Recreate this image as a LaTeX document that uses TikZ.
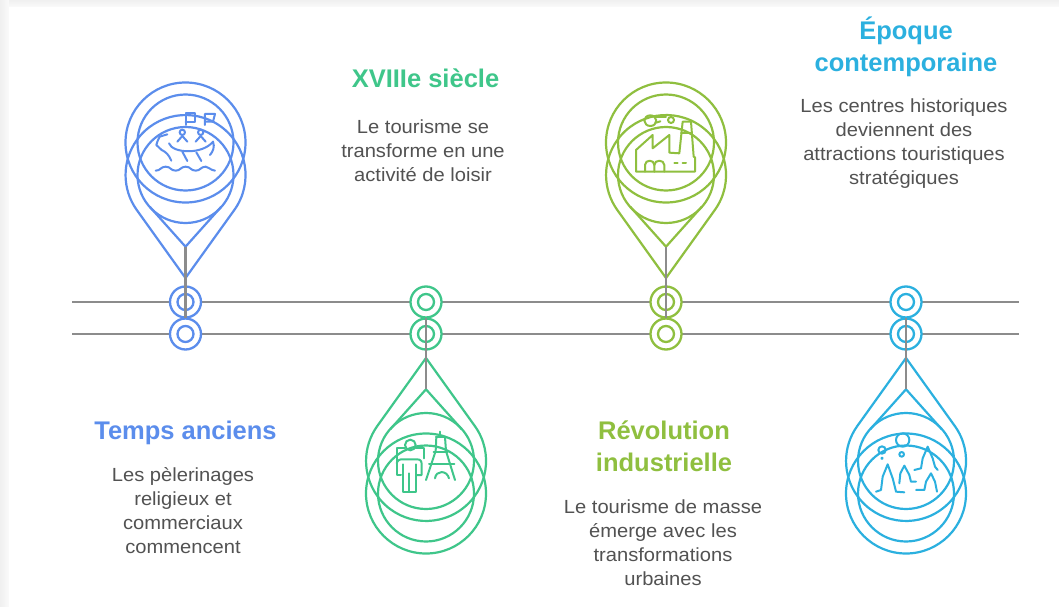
\documentclass[tikz,border=0pt]{standalone}
\usepackage{fontspec}
\setmainfont{Liberation Sans}
\newfontfamily\bodyfont[FakeStretch=1.06]{Liberation Sans}
\definecolor{cblue}{HTML}{5B8DEC}
\definecolor{cgreen}{HTML}{3FC68A}
\definecolor{clime}{HTML}{8FBF3F}
\definecolor{ccyan}{HTML}{2BB0DF}
\definecolor{cbody}{HTML}{525252}
\definecolor{caxis}{HTML}{8C8C8C}
\definecolor{cedge}{HTML}{F0F0F0}
\definecolor{cedgeb}{HTML}{FAFAFA}
\tikzset{
  axisline/.style={draw=caxis,line width=2.4pt},
  stem/.style={draw=caxis,line width=2.4pt},
  ring/.style={circle,draw=#1,line width=2.3pt,fill=white,minimum size=31pt,inner sep=0pt},
  ringin/.style={circle,draw=#1,line width=2.3pt,minimum size=16pt,inner sep=0pt},
  pinline/.style={draw=#1,line width=2.2pt},
  iconline/.style={draw=#1,line width=2pt,line cap=round,line join=round},
  title/.style={text=#1,font=\fontsize{25.5}{32}\selectfont\bfseries,align=center,inner sep=0pt},
  body/.style={text=cbody,font=\fontsize{19}{24}\bodyfont,align=center,inner sep=0pt},
}
% #1 x position, #2 yscale sign (-1 up, 1 down), #3 colour, #4 name
\newcommand{\mypin}[4]{%
  \begin{scope}[shift={(#1,318)},yscale=#2]
    \draw[pinline=#3] (0,40) -- (48.8,108) arc[start angle=-35.65,end angle=215.65,radius=60] -- cycle;
    \draw[pinline=#3] (-35.7,111.2) -- (0,71.3) -- (35.7,111.2);
    \draw[pinline=#3] (0,143) circle[radius=48];
    \draw[pinline=#3] (0,175.5) circle[radius=60];
    \draw[pinline=#3] (0,175.5) circle[radius=48];
    \coordinate (#4tip) at (0,71.3);
    \coordinate (#4root) at (0,0);
  \end{scope}
  \draw[stem] (#4tip) -- (#4root);
}
\newcommand{\myrings}[3]{%
  \node[ring=#2] (#3a) at (#1,302) {};
  \node[ringin=#2] (#3ai) at (#1,302) {};
  \node[ring=#2] (#3b) at (#1,334) {};
  \node[ringin=#2] (#3bi) at (#1,334) {};
}
\begin{document}
\begin{tikzpicture}[x=1pt,y=-1pt]
\useasboundingbox (0,0) rectangle (1059,607);
\shade[top color=cedge,bottom color=cedgeb] (0,0) rectangle (1059,7);
\shade[left color=cedge,right color=cedgeb] (0,0) rectangle (9,607);
\fill[white] (9,7) rectangle (1059,607);
% axes
\coordinate (l1) at (72,302);
\coordinate (r1) at (1019,302);
\coordinate (l2) at (72,334);
\coordinate (r2) at (1019,334);
\draw[axisline] (l1) -- (r1);
\draw[axisline] (l2) -- (r2);
% rings
\myrings{185.5}{cblue}{A}
\myrings{426}{cgreen}{B}
\myrings{666}{clime}{C}
\myrings{906}{ccyan}{D}
% pins
\mypin{185.5}{-1}{cblue}{pa}
\mypin{426}{1}{cgreen}{pb}
\mypin{666}{-1}{clime}{pc}
\mypin{906}{1}{ccyan}{pd}
% boat icon
\begin{scope}[shift={(139,100)},x=.3333pt,y=-.3333pt]
  \draw[iconline=cblue] (140,75) -- (140,40) -- (168,40) -- (168,65) -- (140,65);
  \draw[iconline=cblue] (198,75) -- (198,42) -- (228,42) -- (222,65) -- (198,65);
  \draw[iconline=cblue] (130,97) circle[radius=8];
  \draw[iconline=cblue] (185,97) circle[radius=8];
  \draw[iconline=cblue] (115,125) -- (130,108) -- (145,125);
  \draw[iconline=cblue] (170,125) -- (185,108) -- (200,125);
  \draw[iconline=cblue] (90,130) .. controls (100,160) and (190,165) .. (222,125) .. controls (228,140) and (222,155) .. (213,165);
  \draw[iconline=cblue] (130,155) -- (145,183);
  \draw[iconline=cblue] (172,157) -- (187,183);
  \draw[iconline=cblue] (85,103) -- (62,110) -- (55,125) -- (52,135) -- (68,150) .. controls (80,155) and (90,165) .. (97,182);
  \draw[iconline=cblue] (50,212) .. controls (65,212) and (65,200) .. (80,200) .. controls (95,200) and (95,212) .. (110,212) .. controls (125,212) and (125,200) .. (140,200) .. controls (155,200) and (155,212) .. (170,212) .. controls (185,212) and (185,200) .. (200,200) .. controls (210,200) and (212,210) .. (228,212);
\end{scope}
% person and tower icon
\begin{scope}[shift={(381,425)},x=.3333pt,y=-.3333pt]
  \draw[iconline=cgreen] (88,60) circle[radius=16];
  \draw[iconline=cgreen] (72,68) -- (47,68) -- (47,150) -- (60,150);
  \draw[iconline=cgreen] (47,115) .. controls (50,105) and (55,103) .. (65,103) -- (108,103) .. controls (118,103) and (122,108) .. (122,118) -- (122,150) -- (108,150);
  \draw[iconline=cgreen] (65,118) -- (65,200) -- (105,200) -- (105,118);
  \draw[iconline=cgreen] (85,145) -- (85,200);
  \draw[iconline=cgreen] (104,68) -- (130,68) -- (130,100);
  \draw[iconline=cgreen] (178,20) -- (178,36);
  \draw[iconline=cgreen] (165,36) -- (192,36);
  \draw[iconline=cgreen] (166,36) -- (164,78) -- (135,165);
  \draw[iconline=cgreen] (192,36) -- (195,78) -- (222,165);
  \draw[iconline=cgreen] (158,82) -- (200,82);
  \draw[iconline=cgreen] (144,116) -- (220,116);
  \draw[iconline=cgreen] (162,160) .. controls (165,135) and (198,135) .. (204,160);
\end{scope}
% factory icon
\begin{scope}[shift={(621,100)},x=.3333pt,y=-.3333pt]
  \draw[iconline=clime] (45,215) -- (45,150) -- (95,105) -- (95,145) -- (145,105) -- (145,158) -- (175,160) -- (185,65) -- (210,65) -- (218,170) -- (222,172) -- (222,215) -- cycle;
  \draw[iconline=clime] (180,100) -- (212,100);
  \draw[iconline=clime] (72,215) -- (72,195) .. controls (72,178) and (100,178) .. (100,195) -- (100,215);
  \draw[iconline=clime] (100,195) .. controls (100,178) and (130,178) .. (130,195) -- (130,215);
  \draw[iconline=clime] (160,190) -- (170,190);
  \draw[iconline=clime] (185,190) -- (195,190);
  \draw[iconline=clime] (88,62) ellipse[x radius=18,y radius=16];
  \draw[iconline=clime] (105,52) -- (135,52);
  \draw[iconline=clime] (150,60) circle[radius=9];
  \draw[iconline=clime] (106,68) -- (118,64);
\end{scope}
% mountains and people icon
\begin{scope}[shift={(861,425)},x=.3333pt,y=-.3333pt]
  \draw[iconline=ccyan] (125,45) circle[radius=20];
  \draw[iconline=ccyan] (122,88) circle[radius=7];
  \draw[iconline=ccyan] (63,75) circle[radius=11];
  \draw[iconline=ccyan] (63,100) circle[radius=2];
  \draw[iconline=ccyan] (45,200) -- (60,195) -- (65,155) -- (80,118) -- (95,160) -- (105,200) -- (130,202);
  \draw[iconline=ccyan] (115,175) -- (118,145) -- (130,122) -- (145,150) -- (150,170) -- (165,170);
  \draw[iconline=ccyan] (160,135) -- (180,130) -- (185,100) -- (200,65) -- (215,100) -- (222,125) -- (230,135);
  \draw[iconline=ccyan] (165,195) -- (190,195) -- (195,170) -- (210,145) -- (222,170) -- (228,200);
\end{scope}
% text
\node[title=cblue] (t1) at (185.5,433) {Temps anciens};
\node[body] (b1) at (183,511) {Les pèlerinages\\religieux et\\commerciaux\\commencent};
\node[title=cgreen] (t2) at (425.5,78) {XVIIIe siècle};
\node[body] (b2) at (423,151) {Le tourisme se\\transforme en une\\activité de loisir};
\node[title=clime] (t3) at (664,446) {Révolution\\industrielle};
\node[body] (b3) at (663,543) {Le tourisme de masse\\émerge avec les\\transformations\\urbaines};
\node[title=ccyan] (t4) at (906,47) {Époque\\contemporaine};
\node[body] (b4) at (904,144) {Les centres historiques\\deviennent des\\attractions touristiques\\stratégiques};
\end{tikzpicture}
\end{document}
